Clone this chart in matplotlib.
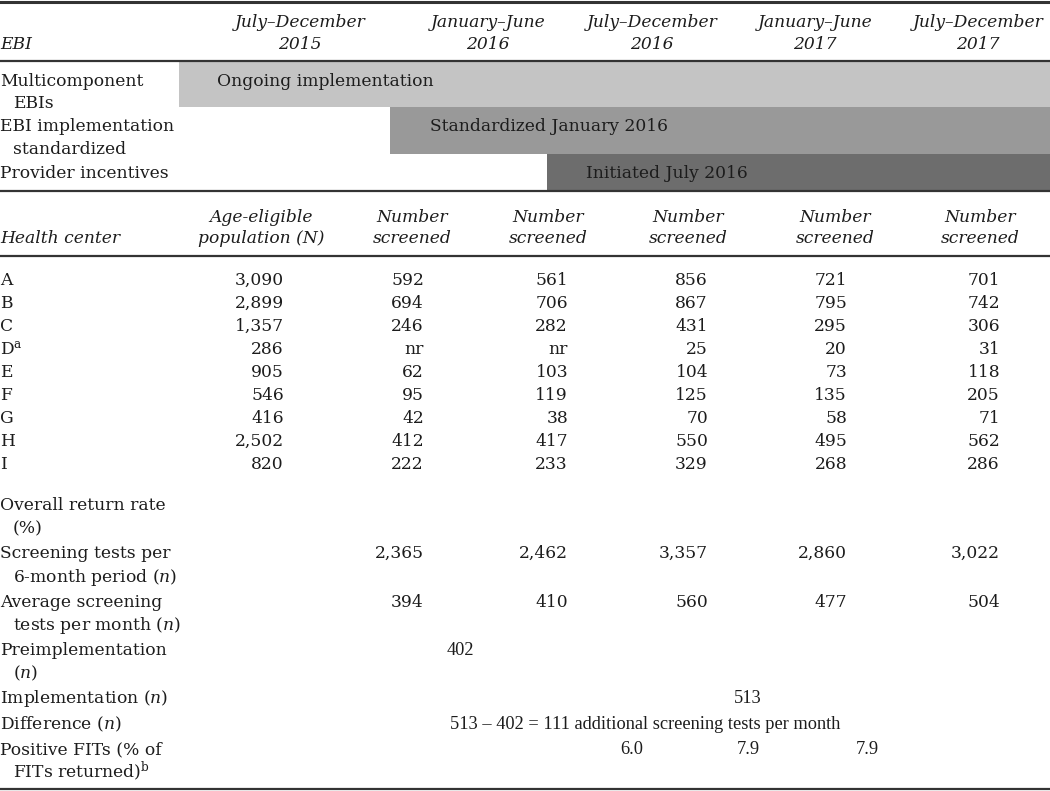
import matplotlib
matplotlib.use("Agg")
from matplotlib import pyplot as plt

# header / timeline
periods_top = ["July–December", "January–June", "July–December", "January–June", "July–December"]
periods_year = ["2015", "2016", "2016", "2017", "2017"]
ebi_labels = [["Multicomponent", "EBIs"], ["EBI implementation", "standardized"], ["Provider incentives"]]
ebi_bars = ["Ongoing implementation", "Standardized January 2016", "Initiated July 2016"]

# health centers
centers = ["A", "B", "C", "D$^{\\mathrm{a}}$", "E", "F", "G", "H", "I"]
age_pop = [3090, 2899, 1357, 286, 905, 546, 416, 2502, 820]
jul_dec_2015 = [592, 694, 246, None, 62, 95, 42, 412, 222]
jan_jun_2016 = [561, 706, 282, None, 103, 119, 38, 417, 233]
jul_dec_2016 = [856, 867, 431, 25, 104, 125, 70, 550, 329]
jan_jun_2017 = [721, 795, 295, 20, 73, 135, 58, 495, 268]
jul_dec_2017 = [701, 742, 306, 31, 118, 205, 71, 562, 286]

tests_per_period = [2365, 2462, 3357, 2860, 3022]
avg_per_month = [394, 410, 560, 477, 504]
pre_impl = 402
impl = 513
positive_fits = [6.0, 7.9, 7.9]

plt.rcParams['mathtext.fontset'] = 'dejavuserif'
FONT = "DejaVu Serif"
FONT2 = "Liberation Serif"
FS = 12.3
TC = "#1c1c1c"

fig = plt.figure(figsize=(10.5, 7.91), dpi=100)
ax = fig.add_axes([0, 0, 1, 1])
ax.set_xlim(0, 1050)
ax.set_ylim(791, 0)
ax.axis("off")


def txt(x, y, s, ha="left", style="normal", font=FONT, size=FS, color=TC):
    ax.text(x, y, s, ha=ha, va="baseline", fontsize=size, family=font,
            style=style, color=color)


# rules
for y, lw in [(1.5, 2.2), (61, 1.6), (191, 1.6), (256, 1.6), (789, 1.6)]:
    ax.axhline(y, color="#333333", lw=lw)

# period header
period_x = [300, 488, 652, 815, 978]
txt(0, 49, "EBI", style="italic")
for x, a, b in zip(period_x, periods_top, periods_year):
    txt(x, 27, a, ha="center", style="italic")
    txt(x, 49, b, ha="center", style="italic")

# timeline bars
bar_start = [179, 390, 547]
bar_top = [62, 107, 154]
bar_bot = [107, 154, 190]
bar_col = ["#c4c4c4", "#999999", "#6d6d6d"]
bar_text_x = [217, 430, 586]
label_base = [[86, 108], [131, 154], [178]]
for i in range(3):
    ax.barh((bar_top[i] + bar_bot[i]) / 2, 1050 - bar_start[i], left=bar_start[i],
            height=bar_bot[i] - bar_top[i], color=bar_col[i], lw=0)
    txt(bar_text_x[i], label_base[i][0], ebi_bars[i])
    for j, line in enumerate(ebi_labels[i]):
        txt(0 if j == 0 else 13, label_base[i][j], line)

# column header
txt(0, 243, "Health center", style="italic")
txt(261, 222, "Age-eligible", ha="center", style="italic")
txt(261, 243, "population (N)", ha="center", style="italic")
head_x = [412, 548, 688, 835, 980]
for x in head_x:
    txt(x, 222, "Number", ha="center", style="italic")
    txt(x, 243, "screened", ha="center", style="italic")

# data rows
col_right = [284, 424, 568, 708, 847, 1000]
cols = [age_pop, jul_dec_2015, jan_jun_2016, jul_dec_2016, jan_jun_2017, jul_dec_2017]
for r, name in enumerate(centers):
    yb = 285 + 23 * r
    txt(0, yb, name)
    for c, vals in enumerate(cols):
        v = vals[r]
        txt(col_right[c], yb, "nr" if v is None else f"{v:,}", ha="right")

# summary rows
txt(0, 510, "Overall return rate")
txt(13, 533, "(%)")
txt(0, 558, "Screening tests per")
txt(13, 582, "6-month period ($n$)")
txt(0, 607, "Average screening")
txt(13, 630, "tests per month ($n$)")
txt(0, 655, "Preimplementation")
txt(13, 678, "($n$)")
txt(0, 703, "Implementation ($n$)")
txt(0, 729, "Difference ($n$)")
txt(0, 754, "Positive FITs (% of")
txt(13, 777, "FITs returned)$^{\\mathrm{b}}$")

for c in range(5):
    txt(col_right[c + 1], 558, f"{tests_per_period[c]:,}", ha="right")
    txt(col_right[c + 1], 607, f"{avg_per_month[c]:,}", ha="right")

FS2 = 13.2
txt(460, 655, f"{pre_impl}", ha="center", font=FONT2, size=FS2)
txt(748, 703, f"{impl}", ha="center", font=FONT2, size=FS2)
txt(450, 729, f"{impl} – {pre_impl} = {impl - pre_impl} additional screening tests per month",
    font=FONT2, size=FS2)
for x, v in zip([632, 748, 867], positive_fits):
    txt(x, 754, f"{v:.1f}", ha="center", font=FONT2, size=FS2)

fig.savefig("out.png", dpi=100)
